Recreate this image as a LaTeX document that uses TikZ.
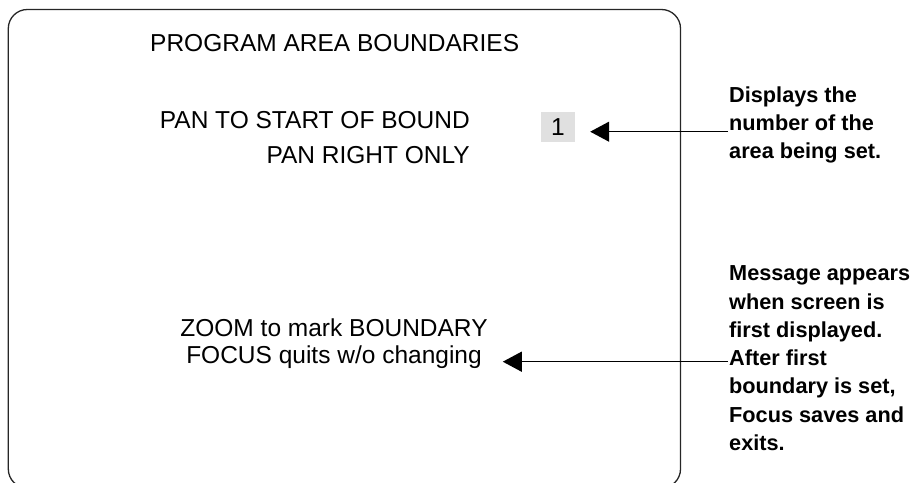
\documentclass[tikz,border=0pt]{standalone}
\usepackage{fontspec}
\setmainfont{Liberation Sans}
\usetikzlibrary{arrows.meta}
\begin{document}
\begin{tikzpicture}[x=1pt,y=-1pt,
  screen/.style={inner sep=0pt, font=\fontsize{24.5}{35}\selectfont},
  note/.style={inner sep=0pt, align=left, font=\fontsize{21.7}{28.3}\selectfont\bfseries},
  arr/.style={line width=1.3pt, -{Triangle[length=19pt,width=20pt]}},
  frame/.style={draw=black!85, line width=1.3pt, rounded corners=19pt}]
\useasboundingbox (0,0) rectangle (918,482);
% screen frame
\draw[frame] (8.3,9.5) rectangle (680.5,488);
% title
\node[screen, anchor=base west] (title) at (150,51.7) {PROGRAM AREA BOUNDARIES};
% pan lines (anchor at baseline of last line)
\node[screen, align=right, anchor=base east] (pan) at (470,163.3) {PAN TO START OF BOUND\\PAN RIGHT ONLY};
% number box
\node[fill=black!12, minimum width=34pt, minimum height=30pt, inner sep=0pt,
      font=\fontsize{24.5}{28}\selectfont] (num) at (558,126.7) {1};
% zoom lines
\node[screen, align=center, anchor=base, font=\fontsize{24.5}{26.5}\selectfont] (msg) at (334,363) {ZOOM to mark BOUNDARY\\FOCUS quits w/o changing};
% notes
\node[note, anchor=base west] (note1) at (729,158.6) {Displays the\\number of the\\area being set.};
\node[note, anchor=base west] (note2) at (729,450.5) {Message appears\\when screen is\\first displayed.\\After first\\boundary is set,\\Focus saves and\\exits.};
% connectors
\coordinate (a1) at (728,131.7);
\coordinate (a2) at (728,361.7);
\draw[arr] (a1) -- ([xshift=15pt]num.east |- a1);
\draw[arr] (a2) -- ([xshift=15pt]msg.east |- a2);
\end{tikzpicture}
\end{document}
